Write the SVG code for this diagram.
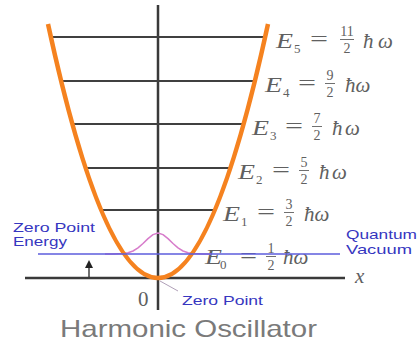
<svg xmlns="http://www.w3.org/2000/svg" width="418" height="347" viewBox="0 0 418 347">
<defs>
<style>
.lvl{stroke:#404040;stroke-width:2;fill:none}
.axis{stroke:#3a3a3a;stroke-width:2.5;fill:none}
.m{font-family:"Liberation Serif",serif;font-style:italic;fill:#606060;font-size:21px}
.n{font-family:"Liberation Serif",serif;fill:#606060;font-size:14px}
.sub{font-family:"Liberation Serif",serif;fill:#606060;font-size:13px}
.eq{font-family:"Liberation Serif",serif;fill:#606060;font-size:21px}
.bar{stroke:#707070;stroke-width:1}
.blue{font-family:"Liberation Sans",Arial,sans-serif;fill:#3636c0;font-size:13.5px}
</style>
<marker id="ah" markerWidth="8" markerHeight="8" refX="4" refY="4" orient="auto" markerUnits="userSpaceOnUse">
<path d="M0,0 L8,4 L0,8 z" fill="#222"/>
</marker>
</defs>
<rect width="418" height="347" fill="#ffffff"/>

<g id="axes">
<line class="axis" x1="158" y1="5" x2="158" y2="310" stroke="#555"/>
<line class="axis" x1="25" y1="278" x2="345" y2="278"/>
<text x="355" y="283" class="m" font-size="20">x</text>
<text x="138" y="306" class="eq" font-size="20" fill="#666">0</text>
</g>

<g id="levels">
<line class="lvl" x1="51" y1="37" x2="265" y2="37"/>
<line class="lvl" x1="61" y1="81" x2="255" y2="81"/>
<line class="lvl" x1="72" y1="124" x2="244" y2="124"/>
<line class="lvl" x1="86" y1="168" x2="230" y2="168"/>
<line class="lvl" x1="101" y1="210" x2="215" y2="210"/>
</g>

<g id="labels">
<g id="E5" transform="translate(276,37)">
<text class="m" x="0" y="11" textLength="17" lengthAdjust="spacingAndGlyphs">E</text>
<text class="sub" x="18" y="16">5</text>
<text class="eq" x="34" y="9" textLength="18" lengthAdjust="spacingAndGlyphs">=</text>
<text class="n" x="71" y="-1" text-anchor="middle">11</text>
<line class="bar" x1="64" y1="2.5" x2="78" y2="2.5"/>
<text class="n" x="71" y="16" text-anchor="middle">2</text>
<text class="m" x="87" y="11">ħ</text>
<text class="m" x="102" y="11">ω</text>
</g>
<g id="E4" transform="translate(265,81)">
<text class="m" x="0" y="11" textLength="17" lengthAdjust="spacingAndGlyphs">E</text>
<text class="sub" x="18" y="16">4</text>
<text class="eq" x="33" y="9" textLength="18" lengthAdjust="spacingAndGlyphs">=</text>
<text class="n" x="65" y="-1" text-anchor="middle">9</text>
<line class="bar" x1="60" y1="2.5" x2="70" y2="2.5"/>
<text class="n" x="65" y="16" text-anchor="middle">2</text>
<text class="m" x="80" y="11">ħω</text>
</g>
<g id="E3" transform="translate(252,124)">
<text class="m" x="0" y="11" textLength="17" lengthAdjust="spacingAndGlyphs">E</text>
<text class="sub" x="18" y="16">3</text>
<text class="eq" x="33" y="9" textLength="18" lengthAdjust="spacingAndGlyphs">=</text>
<text class="n" x="65" y="-1" text-anchor="middle">7</text>
<line class="bar" x1="60" y1="2.5" x2="70" y2="2.5"/>
<text class="n" x="65" y="16" text-anchor="middle">2</text>
<text class="m" x="80" y="11">ħ</text>
<text class="m" x="93" y="11">ω</text>
</g>
<g id="E2" transform="translate(238,168)">
<text class="m" x="0" y="11" textLength="17" lengthAdjust="spacingAndGlyphs">E</text>
<text class="sub" x="18" y="16">2</text>
<text class="eq" x="34" y="9" textLength="18" lengthAdjust="spacingAndGlyphs">=</text>
<text class="n" x="66" y="-1" text-anchor="middle">5</text>
<line class="bar" x1="61" y1="2.5" x2="71" y2="2.5"/>
<text class="n" x="66" y="16" text-anchor="middle">2</text>
<text class="m" x="81" y="11">ħ</text>
<text class="m" x="94" y="11">ω</text>
</g>
<g id="E1" transform="translate(223,210)">
<text class="m" x="0" y="11" textLength="17" lengthAdjust="spacingAndGlyphs">E</text>
<text class="sub" x="18" y="16">1</text>
<text class="eq" x="34" y="9" textLength="18" lengthAdjust="spacingAndGlyphs">=</text>
<text class="n" x="66" y="-1" text-anchor="middle">3</text>
<line class="bar" x1="61" y1="2.5" x2="71" y2="2.5"/>
<text class="n" x="66" y="16" text-anchor="middle">2</text>
<text class="m" x="81" y="11">ħω</text>
</g>
<g id="E0" transform="translate(205,254)">
<text class="m" x="0" y="10" textLength="17" lengthAdjust="spacingAndGlyphs">E</text>
<text class="sub" x="15" y="15">0</text>
<text class="eq" x="35" y="9" textLength="17" lengthAdjust="spacingAndGlyphs">=</text>
<text class="n" x="66" y="-1" text-anchor="middle">1</text>
<line class="bar" x1="61" y1="2.5" x2="71" y2="2.5"/>
<text class="n" x="66" y="16" text-anchor="middle">2</text>
<text class="m" x="78" y="10">ħω</text>
</g>
</g>

<g id="wavefunction">
<path d="M105,254 L113,254 L123,253.5 L128,252.7 L133,251 L138,247.9 L143,243.5 L148,238.6 L153,234.6 L158,233 L163,234.6 L168,238.6 L173,243.5 L178,247.9 L183,251 L188,252.7 L193,253.5 L203,254 L211,254" fill="none" stroke="#d77ccb" stroke-width="1.5" stroke-linejoin="round"/>
</g>

<g id="potential">
<path d="M48,24 Q158,532 268,24" fill="none" stroke="#f5821f" stroke-width="4.5" stroke-linecap="butt"/>
</g>

<g id="connectors">
<line x1="38" y1="254" x2="340" y2="254" stroke="#5c5cdc" stroke-width="1.6"/>
<line x1="89" y1="277" x2="89" y2="264" stroke="#222" stroke-width="1.3" marker-end="url(#ah)"/>
<line x1="160" y1="281" x2="178" y2="291" stroke="#b0a0b8" stroke-width="1"/>
</g>

<g id="zero-point-energy">
<text class="blue" x="13" y="232" textLength="82" lengthAdjust="spacingAndGlyphs">Zero Point</text>
<text class="blue" x="13" y="246" textLength="54" lengthAdjust="spacingAndGlyphs">Energy</text>
</g>
<g id="quantum-vacuum">
<text class="blue" x="346" y="239" textLength="71" lengthAdjust="spacingAndGlyphs">Quantum</text>
<text class="blue" x="346" y="254" textLength="66" lengthAdjust="spacingAndGlyphs">Vacuum</text>
</g>
<g id="zero-point">
<text class="blue" x="182" y="305" textLength="81" lengthAdjust="spacingAndGlyphs">Zero Point</text>
</g>
<g id="title">
<text x="60" y="337" font-family="'Liberation Sans',Arial,sans-serif" font-size="24" fill="#7a7a7a" textLength="257" lengthAdjust="spacingAndGlyphs">Harmonic Oscillator</text>
</g>
</svg>
